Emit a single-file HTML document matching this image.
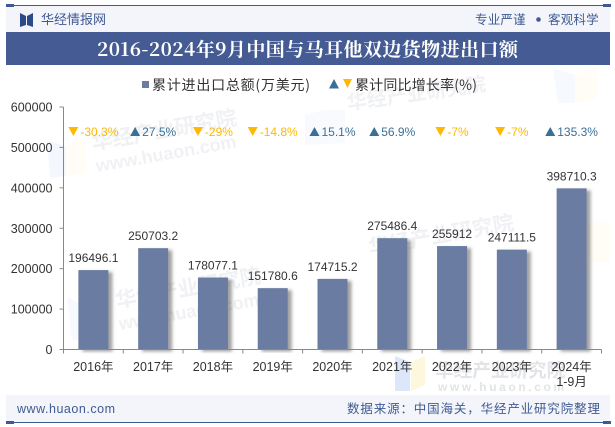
<!DOCTYPE html>
<html>
<head>
<meta charset="utf-8">
<style>
html,body{margin:0;padding:0;background:#fff;width:615px;height:427px;overflow:hidden}
svg{display:block}
text{font-family:"Liberation Sans","Noto Sans CJK SC",sans-serif}
.cjk{font-family:"WenQuanYi Zen Hei","Noto Sans CJK SC",sans-serif}
</style>
</head>
<body>
<svg id="chart" xmlns="http://www.w3.org/2000/svg" width="615" height="427" viewBox="0 0 615 427">
<defs>
<filter id="barShadow" x="-30%" y="-10%" width="170%" height="115%">
<feDropShadow dx="4" dy="2" stdDeviation="1.5" flood-color="#555" flood-opacity="0.55"/>
</filter>
</defs>
<rect x="0" y="0" width="615" height="427" fill="#ffffff"/>

<g>
<polygon points="395,356 410,362 410,391 395,391" fill="#dce8fa"/>
<polygon points="411,362 425,356 425,385 411,391" fill="#fdf7de"/>
<polygon points="47,140 66,146 66,176 50,178" fill="#f4f8fe"/>
<polygon points="66,146 84,137 87,172 66,176" fill="#fffdf5"/>
<polygon points="553,68 575,75 575,103 558,103" fill="#f6f9fe"/>
<polygon points="575,75 597,66 597,98 575,103" fill="#fffdf5"/>
<polygon points="67,297 82,305 86,340 72,340" fill="#f6f9fe"/>
<polygon points="305,115 325,110 345,110 345,143 305,145" fill="#f8fafe"/>
<polygon points="585,225 610,220 610,262 585,262" fill="#fffdf5"/>
</g>
<g fill="#f0f1f4" font-weight="bold">
<text x="348" y="110" font-size="20" transform="rotate(-8 348 110)" class="cjk">华经产业研究院</text>
<text x="93" y="150" font-size="21" transform="rotate(-10 93 150)" class="cjk">华经产业研究院</text>
<text x="97" y="172" font-size="18" transform="rotate(-10 97 172)">www.huaon.com</text>
<text x="117" y="308" font-size="21" transform="rotate(-10 117 308)" class="cjk">华经产业研究院</text>
<text x="120" y="330" font-size="18" transform="rotate(-10 120 330)">www.huaon.com</text>
<text x="370" y="255" font-size="21" transform="rotate(-10 370 255)" class="cjk">华经产业研究院</text>
<text x="435" y="377" font-size="18.6" fill="#e2e4e8" class="cjk">华经产业研究院</text>
<text x="438" y="391" font-size="12" letter-spacing="2.6" fill="#e2e4e8">www.huaon.com</text>
</g>

<g>
<rect x="6" y="6" width="604" height="26" fill="#f3f5fa"/>
<rect x="6" y="5" width="604" height="1" fill="#3f5a93"/>
<rect x="6" y="4" width="8" height="3" fill="#3f5a93"/>
<rect x="603" y="4" width="8" height="3" fill="#3f5a93"/>
<path d="M20 13 L26 16 V25 L20 27 Z M33 13 L33 27 L27 25 V16 Z" fill="#2c4a87"/>
<text x="41" y="24" font-size="13" fill="#3f5a93" textLength="65" lengthAdjust="spacing" class="cjk">华经情报网</text>
<text x="475" y="24" font-size="12.5" fill="#3f5a93" letter-spacing="0.2" class="cjk">专业严谨</text>
<circle cx="538.5" cy="19.5" r="2.3" fill="#3f5a93"/>
<text x="548" y="24" font-size="12.5" fill="#3f5a93" letter-spacing="0.2" class="cjk">客观科学</text>
<rect x="6" y="32" width="604" height="33" fill="#445c93"/>
<text x="97" y="56" font-size="19" font-weight="bold" fill="#ffffff" textLength="421" lengthAdjust="spacing" style="font-family:'Noto Serif CJK SC','Liberation Serif',serif">2016-2024年9月中国与马耳他双边货物进出口额</text>
</g>

<g>
<rect x="142" y="81" width="7" height="7" fill="#6a7ca2"/>
<text x="152" y="90" font-size="14" fill="#333" textLength="158" lengthAdjust="spacing" class="cjk">累计进出口总额(万美元)</text>
<polygon points="329,88.5 339,88.5 334,79" fill="#3a7097"/>
<polygon points="343,79 352,79 347.5,88" fill="#ffb900"/>
<text x="355" y="90" font-size="14" fill="#333" textLength="122" lengthAdjust="spacing" class="cjk">累计同比增长率(%)</text>
</g>

<g id="bars"></g>
<g id="axes"></g>
<g id="labels"></g>
<g id="growth"></g>

<g>
<rect x="6" y="395" width="604" height="27" fill="#f3f5fa"/>
<rect x="6" y="422" width="604" height="1" fill="#3f5a93"/>
<rect x="6" y="421" width="8" height="3" fill="#3f5a93"/>
<rect x="603" y="421" width="8" height="3" fill="#3f5a93"/>
<text x="17" y="413" font-size="12.5" fill="#3f5a93" textLength="98" lengthAdjust="spacing">www.huaon.com</text>
<text x="347" y="413" font-size="12.5" fill="#3f5a93" textLength="253" lengthAdjust="spacing" class="cjk">数据来源：中国海关，华经产业研究院整理</text>
</g>
</svg>
<script>
const categories = ['2016年','2017年','2018年','2019年','2020年','2021年','2022年','2023年','2024年'];
const categorySubLabels = ['','','','','','','','','1-9月'];
const tradeValues = [196496.1,250703.2,178077.1,151780.6,174715.2,275486.4,255912,247111.5,398710.3];
const growthValues = [-30.3,27.5,-29,-14.8,15.1,56.9,-7,-7,135.3];
const yTicks = [0,100000,200000,300000,400000,500000,600000];

const NS = 'http://www.w3.org/2000/svg';
const plotLeft = 63.5, plotRight = 601.5, plotBottom = 349.5, plotTop = 107, yMax = 600000;
const band = (plotRight - plotLeft) / categories.length;
const barWidth = 30;
const yScale = v => plotBottom - (v / yMax) * (plotBottom - plotTop);
const xCenter = i => plotLeft + band * (i + 0.5);

function make(tag, parent, attrs, text) {
  const el = document.createElementNS(NS, tag);
  for (const k in attrs) el.setAttribute(k, attrs[k]);
  if (text !== undefined) el.textContent = text;
  parent.appendChild(el);
  return el;
}

const axes = document.getElementById('axes');
const bars = document.getElementById('bars');
const labels = document.getElementById('labels');
const growth = document.getElementById('growth');

const yLine = make('line', axes, {x1: plotLeft, x2: plotLeft, y1: plotTop, y2: plotBottom, stroke: '#888', 'stroke-width': 1});


const xLine = make('line', axes, {x1: plotLeft - 4, x2: plotRight, y1: plotBottom, y2: plotBottom, stroke: '#888', 'stroke-width': 1});



yTicks.forEach(t => {
  const y = yScale(t);
  const tick = make('line', axes, {x1: plotLeft - 4, x2: plotLeft, y1: y, y2: y, stroke: '#888', 'stroke-width': 1});
  
  
  const label = make('text', axes, {x: 52.5, y: y + 4.5, 'font-size': 12.5, fill: '#333', 'text-anchor': 'end'}, String(t));
  
  
});

for (let i = 0; i <= categories.length; i++) {
  const x = plotLeft + band * i;
  const tick = make('line', axes, {x1: x, x2: x, y1: plotBottom, y2: plotBottom + 4, stroke: '#888', 'stroke-width': 1});
  
  
}

categories.forEach((c, i) => {
  const cx = xCenter(i);
  const label = make('text', axes, {x: cx, y: 371, 'font-size': 12.5, fill: '#333', 'text-anchor': 'middle'}, c);
  
  
  if (categorySubLabels[i]) {
    const sub = make('text', axes, {x: cx, y: 386, 'font-size': 12.5, fill: '#333', 'text-anchor': 'middle'}, categorySubLabels[i]);
    
    
  }

  const v = tradeValues[i];
  const top = yScale(v);
  const bar = make('rect', bars, {x: cx - barWidth / 2, y: top, width: barWidth, height: plotBottom - top, fill: '#6a7ca2', filter: 'url(#barShadow)'});
  
  

  const val = make('text', labels, {x: cx, y: top - 8, 'font-size': 12, fill: '#333', 'text-anchor': 'middle'}, String(v));
  
  

  const g = growthValues[i];
  const up = g >= 0;
  const color = up ? '#3a7097' : '#ffb900';
  const gy = 131.5;
  const gt = make('text', growth, {x: 0, y: gy + 4.5, 'font-size': 12, fill: color}, g + '%');
  
  
  const textWidth = gt.getComputedTextLength();
  const startX = cx - (textWidth + 12) / 2;
  gt.setAttribute('x', startX + 12);
  const pts = up
    ? [[startX, gy + 4.5], [startX + 10, gy + 4.5], [startX + 5, gy - 4.5]]
    : [[startX, gy - 4.5], [startX + 10, gy - 4.5], [startX + 5, gy + 4.5]];
  const tri = make('polygon', growth, {points: pts.map(p => p.join(',')).join(' '), fill: color});
  
  
});
</script>
</body>
</html>
